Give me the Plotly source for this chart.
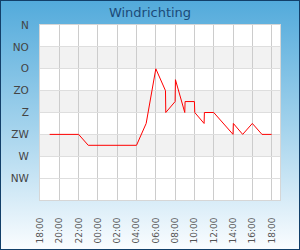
import base64
import plotly.graph_objects as go

# ---- data ----
times = [
    "2024-01-01 19:00", "2024-01-01 20:00", "2024-01-01 21:00", "2024-01-01 22:00",
    "2024-01-01 23:00", "2024-01-02 00:00", "2024-01-02 01:00", "2024-01-02 02:00",
    "2024-01-02 03:00", "2024-01-02 04:00", "2024-01-02 05:00", "2024-01-02 06:00",
    "2024-01-02 07:00", "2024-01-02 07:02", "2024-01-02 08:00", "2024-01-02 08:02",
    "2024-01-02 09:00", "2024-01-02 09:02", "2024-01-02 10:00", "2024-01-02 10:02",
    "2024-01-02 11:00", "2024-01-02 11:02", "2024-01-02 12:00", "2024-01-02 13:00",
    "2024-01-02 14:00", "2024-01-02 14:02", "2024-01-02 15:00", "2024-01-02 16:00",
    "2024-01-02 17:00", "2024-01-02 18:00",
]
direction_deg = [
    225, 225, 225, 225,
    247.5, 247.5, 247.5, 247.5,
    247.5, 247.5, 202.5, 90,
    135, 180, 157.5, 112.5,
    180, 157.5, 157.5, 180,
    202.5, 180, 180, 202.5,
    225, 202.5, 225, 202.5,
    225, 225,
]
y_tick_vals = [0, 45, 90, 135, 180, 225, 270, 315]
y_tick_text = ["N", "NO", "O", "ZO", "Z", "ZW", "W", "NW"]
band_ranges = [(45, 90), (135, 180), (225, 270)]
title_text = "Windrichting"

# ---- background gradient image ----
svg = (
    '<svg xmlns="http://www.w3.org/2000/svg" width="300" height="250" preserveAspectRatio="none">'
    '<defs><linearGradient id="g" x1="0" y1="0" x2="0" y2="1">'
    '<stop offset="0" stop-color="#52aadb"/>'
    '<stop offset="0.5" stop-color="#a2d2ec"/>'
    '<stop offset="1" stop-color="#fbfdff"/>'
    '</linearGradient></defs>'
    '<rect width="300" height="250" fill="url(#g)"/></svg>'
)
svg_uri = "data:image/svg+xml;base64," + base64.b64encode(svg.encode()).decode()

fig = go.Figure()
fig.add_trace(go.Scatter(
    x=times, y=direction_deg, mode="lines",
    line=dict(color="#ff0000", width=1),
    hoverinfo="skip", showlegend=False,
))

shapes = []
# white plot area over the gradient background
shapes.append(dict(type="rect", xref="paper", yref="paper", x0=0, x1=1, y0=0, y1=1,
                   fillcolor="#ffffff", line=dict(width=0), layer="below"))
for y0, y1 in band_ranges:
    shapes.append(dict(type="rect", xref="paper", yref="y", x0=0, x1=1, y0=y0, y1=y1,
                       fillcolor="#f2f2f2", line=dict(width=0), layer="below"))
# outer dark border
shapes.append(dict(type="rect", xref="paper", yref="paper",
                   x0=-40 / 240, x1=1 + 20 / 240, y0=-50 / 175, y1=1 + 25 / 175,
                   line=dict(color="#123f69", width=2), fillcolor="rgba(0,0,0,0)", layer="above"))

fig.update_layout(
    width=300, height=250,
    margin=dict(l=40, r=20, t=25, b=50, autoexpand=False),
    paper_bgcolor="#9fd0ea",
    plot_bgcolor="#ffffff",
    font=dict(family="DejaVu Sans", color="#444444"),
    title=dict(text=title_text, x=0.5, xanchor="center", y=1 - 12.5 / 250, yanchor="middle",
               font=dict(size=13, color="#1b4a78", family="DejaVu Sans")),
    shapes=shapes,
    images=[dict(source=svg_uri, xref="paper", yref="paper",
                 x=-40 / 240, y=1 + 25 / 175, sizex=300 / 240, sizey=250 / 175,
                 xanchor="left", yanchor="top", sizing="stretch", layer="below")],
    showlegend=False,
)
fig.update_xaxes(
    type="date", automargin=False,
    range=["2024-01-01 18:00", "2024-01-02 18:52"],
    tick0="2024-01-01 18:00", dtick=7200000, tickformat="%H:%M",
    tickangle=-90, tickfont=dict(size=9, color="#555555"),
    showgrid=True, gridcolor="#cccccc", gridwidth=1,
    showline=True, mirror=True, linecolor="#d6d6d6", linewidth=1,
    ticks="outside", ticklen=13, tickcolor="rgba(0,0,0,0)",
    zeroline=False, fixedrange=True,
)
fig.update_yaxes(
    automargin=False,
    range=[360, 0],
    tickmode="array", tickvals=y_tick_vals, ticktext=y_tick_text,
    tickfont=dict(size=10.5, color="#444444"),
    showgrid=True, gridcolor="#dedede", gridwidth=1,
    showline=True, mirror=True, linecolor="#d6d6d6", linewidth=1,
    ticks="outside", ticklen=8, tickcolor="rgba(0,0,0,0)",
    zeroline=False, fixedrange=True,
)

fig.write_html("out.html", config={"displayModeBar": False})
